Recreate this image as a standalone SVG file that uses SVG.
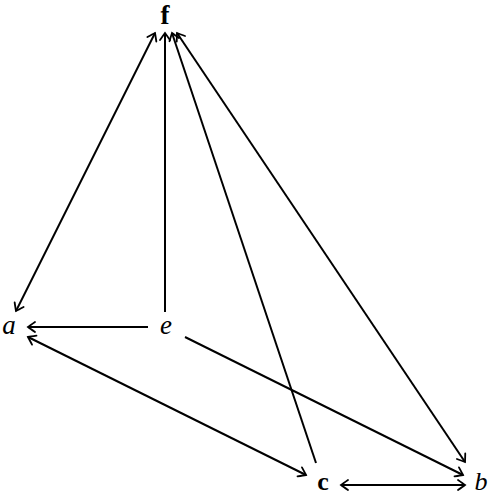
<svg xmlns="http://www.w3.org/2000/svg" width="488" height="496" viewBox="0 0 488 496">
<style>
.lbl{font-family:"Liberation Serif","DejaVu Serif",serif;font-size:27px;fill:#000;text-anchor:middle}
.sm{font-size:26px}
.it{font-style:italic}
.bd{font-weight:bold}
.edge{stroke:#000;stroke-width:2;fill:none}
</style>
<defs>
<marker id="ah" markerUnits="userSpaceOnUse" viewBox="-10 -7 12 14" markerWidth="12" markerHeight="14" refX="0" refY="0" orient="auto-start-reverse">
<path d="M-7,-5 Q-2,-1.5 0,0 Q-2,1.5 -7,5" fill="none" stroke="#000" stroke-width="1.8" stroke-linecap="round"/>
</marker>
</defs>
<rect width="488" height="496" fill="#fff"/>
<g id="connectors">
<line class="edge" x1="16" y1="311" x2="155" y2="33" marker-start="url(#ah)" marker-end="url(#ah)"/>
<line class="edge" x1="165" y1="312" x2="165" y2="33" marker-end="url(#ah)"/>
<line class="edge" x1="316" y1="463" x2="172" y2="33" marker-end="url(#ah)"/>
<line class="edge" x1="465" y1="462" x2="177" y2="33" marker-start="url(#ah)" marker-end="url(#ah)"/>
<line class="edge" x1="148" y1="327" x2="28" y2="327" marker-end="url(#ah)"/>
<line class="edge" x1="28" y1="337" x2="306" y2="475" marker-start="url(#ah)" marker-end="url(#ah)"/>
<line class="edge" x1="185" y1="337" x2="463" y2="475" marker-end="url(#ah)"/>
<line class="edge" x1="341" y1="485" x2="465" y2="485" marker-start="url(#ah)" marker-end="url(#ah)"/>
</g>
<g id="node-f"><text class="lbl bd" x="165" y="24">f</text></g>
<g id="node-a"><text class="lbl it" x="9" y="334">a</text></g>
<g id="node-e"><text class="lbl it" x="166" y="334">e</text></g>
<g id="node-c"><text class="lbl sm bd" x="323" y="490">c</text></g>
<g id="node-b"><text class="lbl sm it" x="481" y="490">b</text></g>
</svg>
